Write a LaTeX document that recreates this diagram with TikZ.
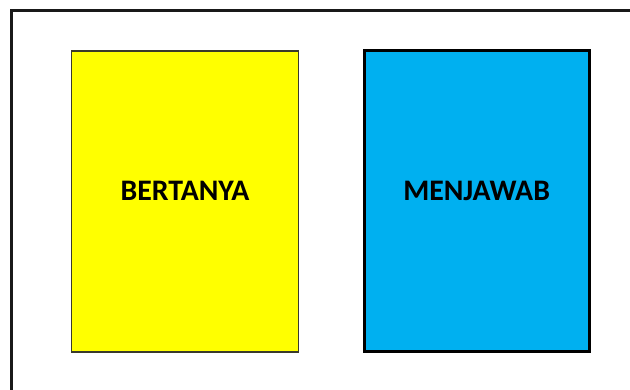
\documentclass[tikz,border=0pt]{standalone}
\usepackage{fontspec}
\setsansfont{Carlito}
\usetikzlibrary{positioning}
\definecolor{askYellow}{HTML}{FFFF00}
\definecolor{answerBlue}{HTML}{00B0F0}
\definecolor{edgeDark}{HTML}{3A3A2A}

\begin{document}
\begin{tikzpicture}[x=1pt, y=1pt,
    card/.style={minimum height=301pt, inner sep=0pt},
    word/.style={font=\fontsize{29.8}{33}\selectfont\sffamily\bfseries},
]
    \useasboundingbox (0,0) rectangle (630,390);

    % Frame (open at right and bottom)
    \draw[line width=2.4pt, black!90] (11.5,-5) -- (11.5,379.5) -- (640,379.5);

    % Card 1: Bertanya
    \node[card, minimum width=227pt, draw=edgeDark, line width=1.2pt, fill=askYellow] (ask) at (185,188.5) {};
    \node[word] (askText) at (185,199) {BERTANYA};

    % Card 2: Menjawab
    \node[card, minimum width=225pt, draw=black, line width=3pt, fill=answerBlue, right=63.5pt of ask] (answer) {};
    \node[word] (answerText) at (answer.center |- askText) {MENJAWAB};
\end{tikzpicture}
\end{document}
